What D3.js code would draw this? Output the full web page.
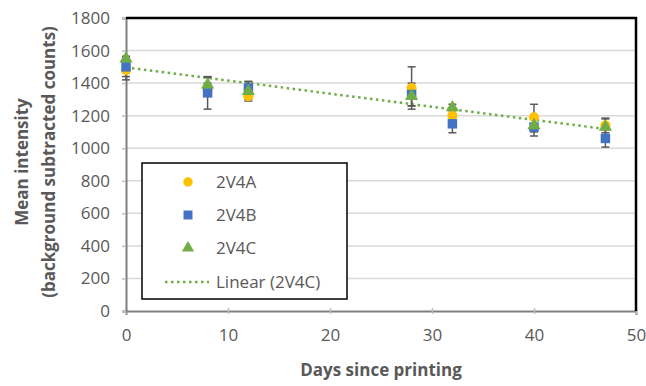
<!DOCTYPE html>
<html>
<head>
<meta charset="utf-8">
<script src="https://cdn.jsdelivr.net/npm/d3@7"></script>
<style>
  body { margin: 0; background: #fff; }
  text { font-family: "Open Sans", sans-serif; fill: #595959; }
</style>
</head>
<body>
<div class="result"></div>
<script>
const days = [0, 8, 12, 28, 32, 40, 47];
const meanA = [1480, 1360, 1320, 1370, 1200, 1190, 1140];
const meanB = [1500, 1340, 1370, 1330, 1150, 1130, 1060];
const meanC = [1550, 1390, 1350, 1320, 1250, 1140, 1130];
const errA = [60, 40, 20, 130, 40, 80, 45];
const errB = [60, 100, 40, 70, 55, 55, 53];
const errC = [15, 45, 60, 60, 20, 40, 50];
const xTicks = [0, 10, 20, 30, 40, 50];
const yTicks = [0, 200, 400, 600, 800, 1000, 1200, 1400, 1600, 1800];
const seriesNames = ['2V4A', '2V4B', '2V4C'];
const trendName = 'Linear (2V4C)';

const w = 646;
const h = 386;
const colors = ['#FFC000', '#4472C4', '#70AD47'];

const x = d3.scaleLinear().domain([0, 50]).range([126, 636]);
const y = d3.scaleLinear().domain([0, 1800]).range([311, 18]);

const svg = d3.select('.result')
  .append('svg')
  .attr('width', w)
  .attr('height', h);

// gridlines
svg.append('g')
  .selectAll('line')
  .data(yTicks.slice(1, -1))
  .enter()
  .append('line')
  .attr('x1', x(0)).attr('x2', x(50))
  .attr('y1', d => y(d)).attr('y2', d => y(d))
  .attr('stroke', '#d9d9d9')
  .attr('stroke-width', 1.5);

// axes
const xAxis = svg.append('g')
  .attr('transform', 'translate(0,' + y(0) + ')')
  .call(d3.axisBottom(x).tickValues(xTicks).tickFormat(d3.format('d')).tickSize(4).tickPadding(14));
const yAxis = svg.append('g')
  .attr('transform', 'translate(' + x(0) + ',0)')
  .call(d3.axisLeft(y).tickValues(yTicks).tickFormat(d3.format('d')).tickSize(4).tickPadding(12));
[xAxis, yAxis].forEach(function (g) {
  g.select('.domain').attr('stroke', '#7f7f7f').attr('stroke-width', 2);
  g.selectAll('.tick line').attr('stroke', '#bfbfbf').attr('stroke-width', 1.5);
  g.selectAll('.tick text')
    .attr('font-size', 17)
    .attr('font-family', '"Open Sans", sans-serif')
    .attr('fill', '#595959');
});
xAxis.selectAll('.tick line').attr('y1', -3).attr('y2', 3);

// top and right border
svg.append('path')
  .attr('d', 'M' + x(0) + ',' + y(1800) + 'H' + x(50) + 'V' + y(0))
  .attr('fill', 'none')
  .attr('stroke', '#000')
  .attr('stroke-width', 2.5);

// trendline for 2V4C
const mx = d3.mean(days);
const my = d3.mean(meanC);
const slope = d3.sum(days, (d, i) => (d - mx) * (meanC[i] - my)) /
  d3.sum(days, d => (d - mx) * (d - mx));
const icpt = my - slope * mx;
svg.append('line')
  .attr('x1', x(0)).attr('y1', y(icpt))
  .attr('x2', x(d3.max(days))).attr('y2', y(icpt + slope * d3.max(days)))
  .attr('stroke', '#70AD47')
  .attr('stroke-width', 2.5)
  .attr('stroke-dasharray', '2.5,3.5');

const means = [meanA, meanB, meanC];
const errs = [errA, errB, errC];

// error bars
means.forEach(function (m, s) {
  const g = svg.append('g').attr('stroke', '#595959').attr('stroke-width', 1.5);
  days.forEach(function (d, i) {
    const lo = y(m[i] - errs[s][i]);
    const hi = y(m[i] + errs[s][i]);
    g.append('line').attr('x1', x(d)).attr('x2', x(d)).attr('y1', lo).attr('y2', hi);
    g.append('line').attr('x1', x(d) - 4).attr('x2', x(d) + 4).attr('y1', lo).attr('y2', lo);
    g.append('line').attr('x1', x(d) - 4).attr('x2', x(d) + 4).attr('y1', hi).attr('y2', hi);
  });
});

// markers
const symbols = [d3.symbolCircle, d3.symbolSquare, d3.symbolTriangle];
const sizes = [80, 90, 75];
means.forEach(function (m, s) {
  svg.append('g')
    .selectAll('path')
    .data(days)
    .enter()
    .append('path')
    .attr('transform', (d, i) => 'translate(' + x(d) + ',' + y(m[i]) + ')')
    .attr('d', d3.symbol().type(symbols[s]).size(sizes[s]))
    .attr('fill', colors[s]);
});

// legend
const lg = svg.append('g');
lg.append('rect')
  .attr('x', 142).attr('y', 163)
  .attr('width', 205).attr('height', 136)
  .attr('fill', '#fff')
  .attr('stroke', '#000')
  .attr('stroke-width', 1.5);
const rowY = [182, 215, 248, 282];
seriesNames.forEach(function (name, s) {
  lg.append('path')
    .attr('transform', 'translate(188,' + rowY[s] + ')')
    .attr('d', d3.symbol().type(symbols[s]).size(sizes[s] - 10))
    .attr('fill', colors[s]);
  lg.append('text')
    .attr('x', 216).attr('y', rowY[s] + 6)
    .attr('font-size', 17)
    .text(name);
});
lg.append('line')
  .attr('x1', 165).attr('x2', 209)
  .attr('y1', rowY[3]).attr('y2', rowY[3])
  .attr('stroke', '#70AD47')
  .attr('stroke-width', 2.5)
  .attr('stroke-dasharray', '2.5,3.5');
lg.append('text')
  .attr('x', 216).attr('y', rowY[3] + 6)
  .attr('font-size', 17)
  .text(trendName);

// axis titles
svg.append('text')
  .attr('x', x(25)).attr('y', 376)
  .attr('text-anchor', 'middle')
  .attr('font-size', 17)
  .attr('font-weight', 'bold')
  .text('Days since printing');
const yt = svg.append('text')
  .attr('transform', 'translate(28,162) rotate(-90)')
  .attr('text-anchor', 'middle')
  .attr('font-size', 17)
  .attr('font-weight', 'bold');
yt.append('tspan').attr('x', 0).attr('y', 0).text('Mean intensity');
yt.append('tspan').attr('x', 0).attr('y', 27).text('(background subtracted counts)');
</script>
</body>
</html>
